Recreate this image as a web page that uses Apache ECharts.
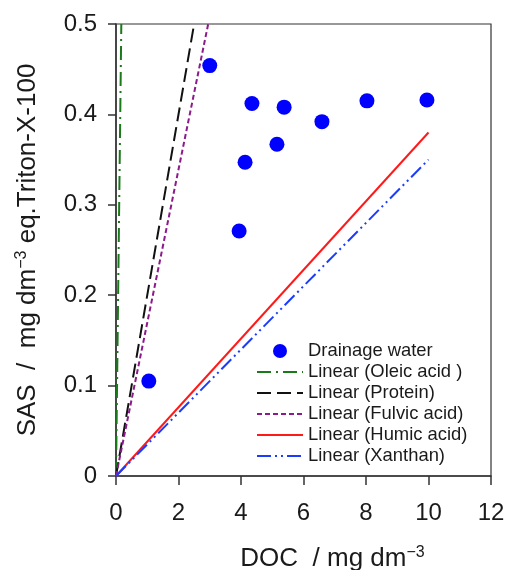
<!DOCTYPE html>
<html><head><meta charset="utf-8">
<script src="https://cdn.jsdelivr.net/npm/echarts@6/dist/echarts.min.js"></script>
<style>html,body{margin:0;padding:0;background:#fff}#c{width:507px;height:570px}</style>
</head><body><div id="c"></div>
<script>
const xTicks = [0, 2, 4, 6, 8, 10, 12];
const yTicks = [0, 0.1, 0.2, 0.3, 0.4, 0.5];
const drainageDOC = [1.05, 3.0, 3.94, 4.13, 4.35, 5.15, 5.38, 6.59, 8.03, 9.95];
const drainageSAS = [0.105, 0.454, 0.271, 0.347, 0.412, 0.367, 0.408, 0.392, 0.415, 0.416];
const oleicLine = [[0, 0], [0.17, 0.5]];
const proteinLine = [[0, 0], [2.5, 0.5]];
const fulvicLine = [[0, 0], [2.95, 0.5]];
const humicLine = [[0, 0], [10, 0.38]];
const xanthanLine = [[0, 0], [10, 0.35]];
const seriesNames = ['Drainage water', 'Linear (Oleic acid )', 'Linear (Protein)', 'Linear (Fulvic acid)', 'Linear (Humic acid)', 'Linear (Xanthan)'];

const font = 'Liberation Sans, Arial, sans-serif';
const chart = echarts.init(document.getElementById('c'), null, {renderer: 'canvas'});
function lineSeries(name, data, color, type, width) {
  return {name, type: 'line', data, symbol: 'none', showSymbol: false, silent: true,
    lineStyle: {color, type, width}, itemStyle: {color}, z: 2, clip: true};
}
chart.setOption({
  animation: false,
  grid: {left: 116, right: 16, top: 24, bottom: 94, show: true, borderColor: '#333', borderWidth: 1.2,
    containLabel: false, outerBoundsMode: 'none'},
  legend: {
    left: 251, top: 337, orient: 'vertical', itemWidth: 46, itemHeight: 14, itemGap: 3,
    textStyle: {fontFamily: font, fontSize: 18.4, color: '#1a1a1a', lineHeight: 18},
    data: seriesNames.map((n, i) => i === 0
      ? {name: n, icon: 'circle', itemStyle: {color: '#0000ff', opacity: 1}}
      : {name: n, itemStyle: {opacity: 0}})
  },
  xAxis: {
    type: 'value', min: 0, max: 12, interval: 2,
    axisLine: {lineStyle: {color: '#333', width: 1.5}},
    axisTick: {show: true, inside: false, length: 9, lineStyle: {color: '#333', width: 1.5}},
    splitLine: {show: false},
    axisLabel: {fontFamily: font, fontSize: 24, color: '#1a1a1a', margin: 25},
    name: '{a|DOC  / mg dm}{s|−3}', nameLocation: 'middle', nameGap: 69,
    nameTextStyle: {padding: [0, 0, 0, 58], rich: {
      a: {fontFamily: font, fontSize: 26, color: '#1a1a1a'},
      s: {fontFamily: font, fontSize: 16, color: '#1a1a1a', verticalAlign: 'bottom', padding: [0, 0, 12, 0]}
    }}
  },
  yAxis: {
    type: 'value', min: 0, max: 0.5, interval: 0.1,
    axisLine: {lineStyle: {color: '#333', width: 1.5}},
    axisTick: {show: true, inside: false, length: 8, lineStyle: {color: '#333', width: 1.5}},
    splitLine: {show: false},
    axisLabel: {fontFamily: font, fontSize: 24, color: '#1a1a1a', margin: 19,
      formatter: v => v === 0 ? '0' : v.toFixed(1)},
    name: '{a|SAS  /  mg dm}{s|−3}{a| eq.Triton-X-100}', nameLocation: 'middle', nameGap: 74, nameRotate: 90,
    nameTextStyle: {rich: {
      a: {fontFamily: font, fontSize: 26, color: '#1a1a1a'},
      s: {fontFamily: font, fontSize: 16, color: '#1a1a1a', verticalAlign: 'bottom', padding: [0, 0, 12, 0]}
    }}
  },
  series: [
    {name: seriesNames[0], type: 'scatter', data: drainageDOC.map((x, i) => [x, drainageSAS[i]]),
      symbol: 'circle', symbolSize: 15, itemStyle: {color: '#0000ff', opacity: 1}, z: 3},
    lineSeries(seriesNames[1], oleicLine, '#1a7a1a', [14, 5, 2, 5], 2),
    lineSeries(seriesNames[2], proteinLine, '#111', [14, 6], 2),
    lineSeries(seriesNames[3], fulvicLine, '#8b1a8b', [5, 3], 2),
    lineSeries(seriesNames[4], humicLine, '#ff1a1a', 'solid', 2),
    lineSeries(seriesNames[5], xanthanLine, '#1a3cff', [14, 4, 2, 4, 2, 4], 2)
  ]
});
</script></body></html>
